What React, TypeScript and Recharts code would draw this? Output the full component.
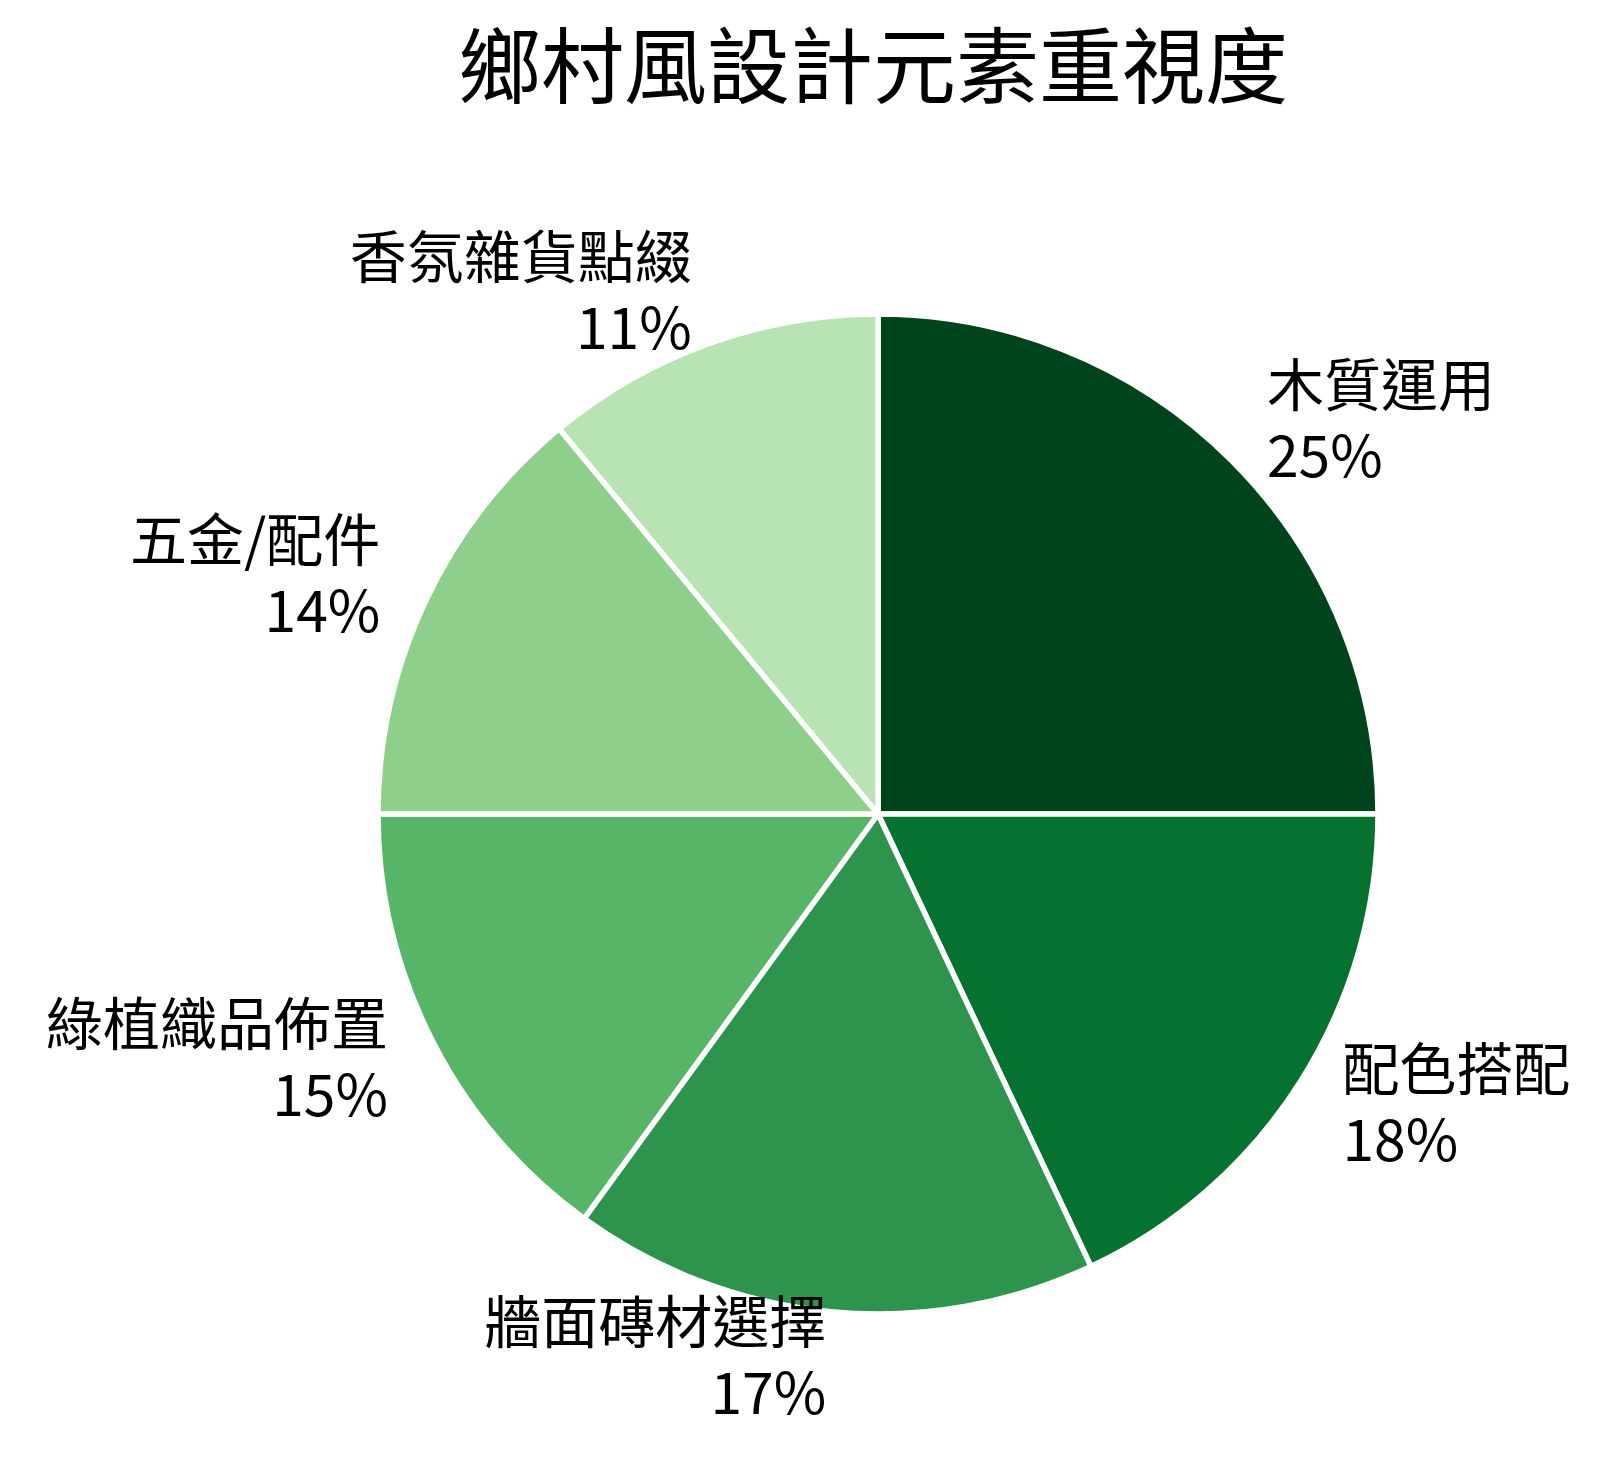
import { PieChart, Pie, Cell } from "recharts";

const names = ["木質運用", "配色搭配", "牆面磚材選擇", "綠植織品佈置", "五金/配件", "香氛雜貨點綴"];
const shares = [25, 18, 17, 15, 14, 11];
const colors = ["#00441b", "#067230", "#2c944c", "#56b567", "#8ed08b", "#b8e3b2"];

const FONT = '"Noto Sans CJK TC", "Noto Sans CJK SC", sans-serif';
const RAD = Math.PI / 180;

function renderLabel(props: any) {
  const { cx, cy, midAngle, outerRadius, name, value } = props;
  const r = outerRadius * 1.1;
  const x = cx + r * Math.cos(-midAngle * RAD);
  const y = cy + r * Math.sin(-midAngle * RAD);
  const anchor = x > cx + 1 ? "start" : x < cx - 1 ? "end" : "middle";
  return (
    <g>
      <text x={x} y={y - 19} textAnchor={anchor} fontSize={57} fontFamily={FONT} fill="#000">
        {name}
      </text>
      <text x={x} y={y + 52} textAnchor={anchor} fontSize={57} fontFamily={FONT} fill="#000">
        {`${value}%`}
      </text>
    </g>
  );
}

export default function App() {
  const data = names.map((name, i) => ({ name, value: shares[i] }));

  return (
    <div style={{ position: "absolute", left: 0, top: 0, width: 1604, height: 1468, background: "#fff" }}>
      <svg width={1604} height={130} style={{ position: "absolute", left: 0, top: 0 }}>
        <text x={873} y={97} textAnchor="middle" fontSize={83} fontFamily={FONT} fill="#000">
          鄉村風設計元素重視度
        </text>
      </svg>
      <div style={{ position: "absolute", left: 0, top: 0 }}>
        <PieChart width={1604} height={1468}>
          <Pie
            data={data}
            dataKey="value"
            nameKey="name"
            cx={873}
            cy={809}
            outerRadius={500}
            startAngle={90}
            endAngle={-270}
            stroke="#ffffff"
            strokeWidth={5.5}
            label={renderLabel}
            labelLine={false}
            isAnimationActive={false}
          >
            {data.map((d, i) => (
              <Cell key={d.name} fill={colors[i]} />
            ))}
          </Pie>
        </PieChart>
      </div>
    </div>
  );
}
